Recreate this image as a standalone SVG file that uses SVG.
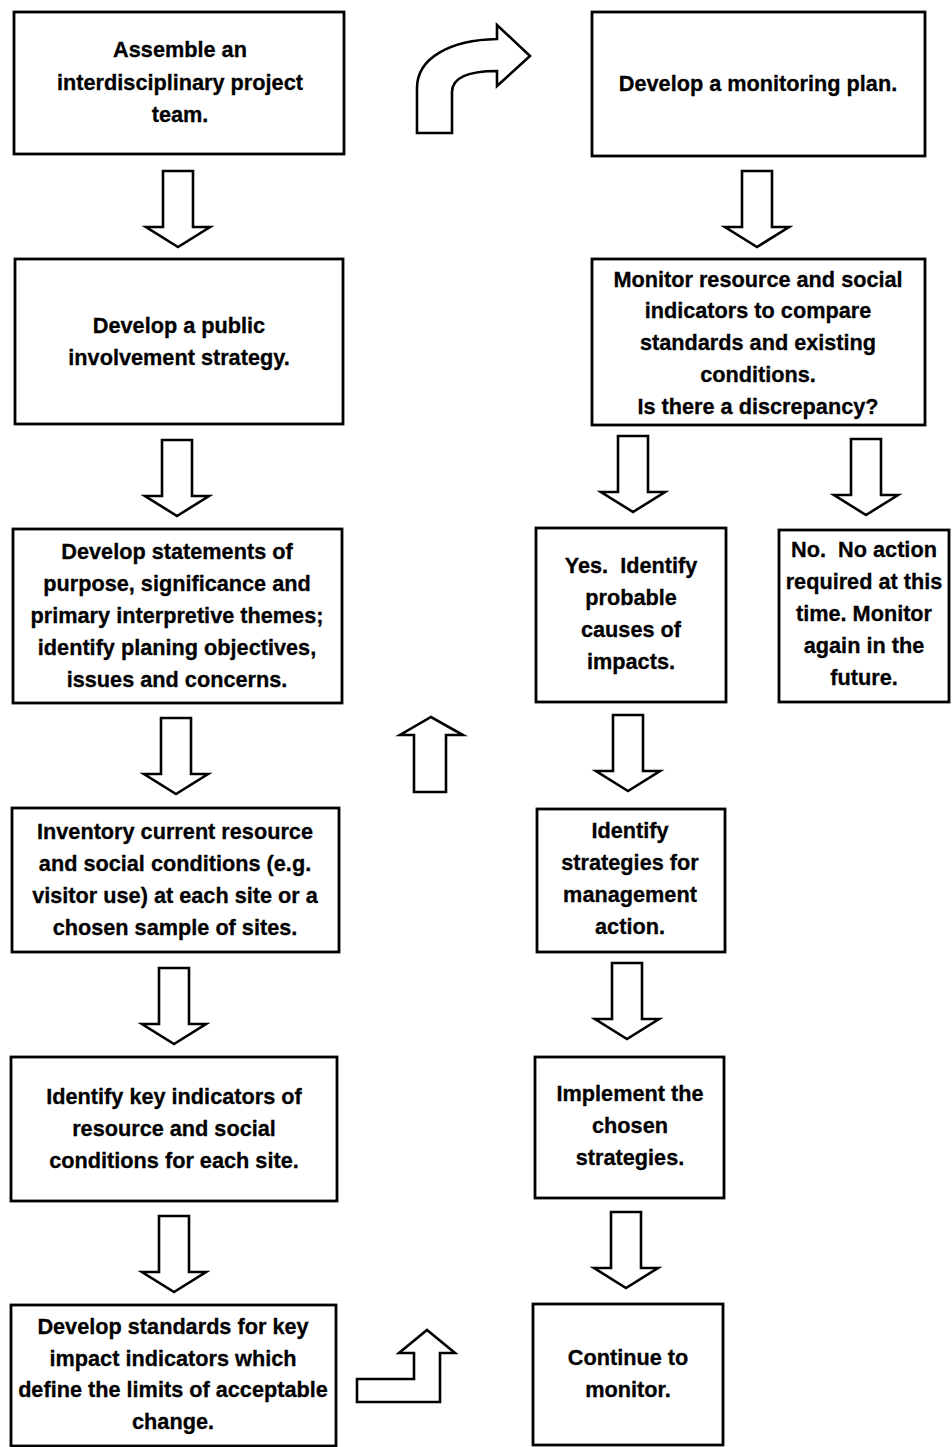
<svg xmlns="http://www.w3.org/2000/svg" width="952" height="1447" viewBox="0 0 952 1447">
<style>
.box{fill:#fff;stroke:#000;stroke-width:2.8}
.arr{fill:#fff;stroke:#000;stroke-width:2.6;stroke-linejoin:miter}
text{font-family:"Liberation Sans",Arial,sans-serif;font-weight:bold;font-size:21.7px;fill:#000;stroke:#000;stroke-width:0.3;text-anchor:middle}
</style>
<defs>
<path id="down" d="M-15,-76 H15 V-20 H32 L0,0 L-32,-20 H-15 Z"/>
</defs>
<rect width="952" height="1447" fill="#fff"/>
<g id="connectors">
<use href="#down" class="arr" x="178" y="247"/>
<use href="#down" class="arr" x="177" y="516"/>
<use href="#down" class="arr" x="176" y="794"/>
<use href="#down" class="arr" x="174" y="1044"/>
<use href="#down" class="arr" x="174" y="1292"/>
<use href="#down" class="arr" x="757" y="247"/>
<use href="#down" class="arr" x="633" y="512"/>
<use href="#down" class="arr" x="866" y="515"/>
<use href="#down" class="arr" x="628" y="791"/>
<use href="#down" class="arr" x="627" y="1039"/>
<use href="#down" class="arr" x="626" y="1288"/>
<path class="arr" d="M417,133 V88 C417,58 450,40 497,39 V25 L530,56 L497,86 V71 C466,71 452,78 452,92 V133 Z"/>
<path class="arr" d="M414,792 V735 H400 L431,717 L463,735 H446 V792 Z"/>
<path class="arr" d="M357,1402 V1379 H414 V1353 H399 L427,1330 L455,1353 H440 V1402 Z"/>
</g>
<g id="n1"><rect class="box" x="14" y="12" width="330" height="142"/>
<text x="180" y="57">Assemble an</text><text x="180" y="90">interdisciplinary project</text><text x="180" y="122">team.</text></g>
<g id="n2"><rect class="box" x="15" y="259" width="328" height="165"/>
<text x="179" y="333">Develop a public</text><text x="179" y="365">involvement strategy.</text></g>
<g id="n3"><rect class="box" x="13" y="529" width="329" height="174"/>
<text x="177" y="559">Develop statements of</text><text x="177" y="591">purpose, significance and</text><text x="177" y="623">primary interpretive themes;</text><text x="177" y="655">identify planing objectives,</text><text x="177" y="687">issues and concerns.</text></g>
<g id="n4"><rect class="box" x="12" y="808" width="327" height="144"/>
<text x="175" y="839">Inventory current resource</text><text x="175" y="871">and social conditions (e.g.</text><text x="175" y="903">visitor use) at each site or a</text><text x="175" y="935">chosen sample of sites.</text></g>
<g id="n5"><rect class="box" x="11" y="1057" width="326" height="144"/>
<text x="174" y="1104">Identify key indicators of</text><text x="174" y="1136">resource and social</text><text x="174" y="1168">conditions for each site.</text></g>
<g id="n6"><rect class="box" x="11" y="1305" width="325" height="141"/>
<text x="173" y="1334">Develop standards for key</text><text x="173" y="1366">impact indicators which</text><text x="173" y="1397">define the limits of acceptable</text><text x="173" y="1429">change.</text></g>
<g id="r1"><rect class="box" x="592" y="12" width="333" height="144"/>
<text x="758" y="91">Develop a monitoring plan.</text></g>
<g id="r2"><rect class="box" x="592" y="259" width="333" height="166"/>
<text x="758" y="287">Monitor resource and social</text><text x="758" y="318">indicators to compare</text><text x="758" y="350">standards and existing</text><text x="758" y="382">conditions.</text><text x="758" y="414">Is there a discrepancy?</text></g>
<g id="r3"><rect class="box" x="536" y="528" width="190" height="174"/>
<text x="631" y="573" xml:space="preserve">Yes.  Identify</text><text x="631" y="605">probable</text><text x="631" y="637">causes of</text><text x="631" y="669">impacts.</text></g>
<g id="r4"><rect class="box" x="779" y="530" width="170" height="172"/>
<text x="864" y="557" xml:space="preserve">No.  No action</text><text x="864" y="589">required at this</text><text x="864" y="621">time. Monitor</text><text x="864" y="653">again in the</text><text x="864" y="685">future.</text></g>
<g id="r5"><rect class="box" x="537" y="809" width="188" height="143"/>
<text x="630" y="838">Identify</text><text x="630" y="870">strategies for</text><text x="630" y="902">management</text><text x="630" y="934">action.</text></g>
<g id="r6"><rect class="box" x="535" y="1057" width="189" height="141"/>
<text x="630" y="1101">Implement the</text><text x="630" y="1133">chosen</text><text x="630" y="1165">strategies.</text></g>
<g id="r7"><rect class="box" x="533" y="1304" width="190" height="141"/>
<text x="628" y="1365">Continue to</text><text x="628" y="1397">monitor.</text></g>
</svg>
